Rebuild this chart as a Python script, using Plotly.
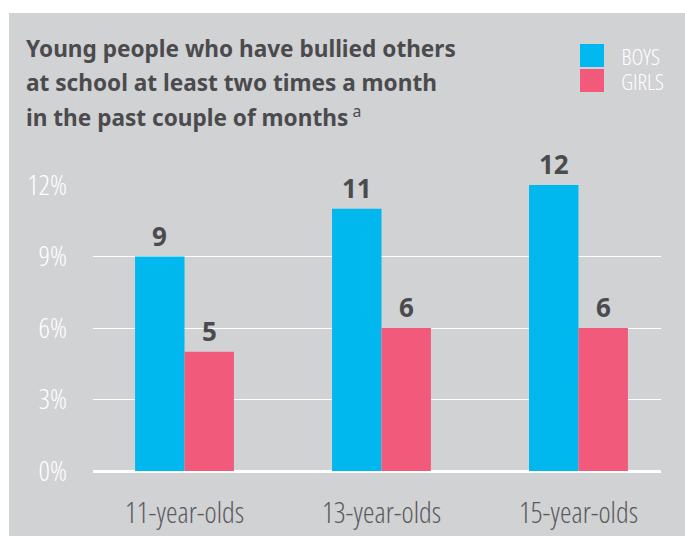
import plotly.graph_objects as go

categories = ["11-year-olds", "13-year-olds", "15-year-olds"]
boys = [9, 11, 12]
girls = [5, 6, 6]
y_ticks = [0, 3, 6, 9, 12]
y_tick_labels = ["0%", "3%", "6%", "9%", "12%"]
title_lines = [
    "Young people who have bullied others",
    "at school at least two times a month",
    "in the past couple of months<span style=\"font-weight:400\"><sup> a</sup></span>",
]

BOYS_C = "#00b7ee"
GIRLS_C = "#f15a7b"
BG = "#d1d2d4"
DARK = "#4b4b4d"
COND = "Open Sans"
BOLD = "Noto Sans"

W, H = 685, 536
L, R, T, B = 93, 24, 185, 65
PW, PH = W - L - R, H - T - B

def px(x):
    return (x - L) / PW

def py(y):
    return (H - B - y) / PH

xs = list(range(len(categories)))
bw = 0.251

fig = go.Figure()
fig.add_trace(go.Bar(x=xs, y=boys, name="BOYS", marker=dict(color=BOYS_C, line=dict(width=0)),
                     width=bw, offset=-bw, hoverinfo="y"))
fig.add_trace(go.Bar(x=xs, y=girls, name="GIRLS", marker=dict(color=GIRLS_C, line=dict(width=0)),
                     width=bw, offset=0, hoverinfo="y"))

lab_font = dict(family=BOLD, size=26, color=DARK, weight=700)
annotations = []
for i, v in enumerate(boys):
    annotations.append(dict(x=i - bw / 2, y=v, xref="x", yref="y", text=str(v), showarrow=False,
                            yanchor="bottom", yshift=1, font=lab_font))
for i, v in enumerate(girls):
    annotations.append(dict(x=i + bw / 2, y=v, xref="x", yref="y", text=str(v), showarrow=False,
                            yanchor="bottom", yshift=1, font=lab_font))

# title lines (baselines at ~58, 92, 125 px)
for k, line in enumerate(title_lines):
    annotations.append(dict(x=px(24), y=py(31 + 33.5 * k), xref="paper", yref="paper",
                            xanchor="left", yanchor="top", align="left", showarrow=False, text=line,
                            font=dict(family=BOLD, size=22.6, color=DARK, weight=700)))

leg_font = dict(family=COND, size=22.5, color="white", weight=300)
annotations.append(dict(x=px(611), y=py(56), xref="paper", yref="paper", xanchor="left", yanchor="middle",
                        showarrow=False, text="BOYS", font=leg_font))
annotations.append(dict(x=px(611), y=py(81.5), xref="paper", yref="paper", xanchor="left", yanchor="middle",
                        showarrow=False, text="GIRLS", font=leg_font))

shapes = [
    dict(type="rect", xref="paper", yref="paper", x0=px(9), x1=px(W + 5), y0=py(H + 5), y1=py(13),
         fillcolor=BG, line=dict(width=0), layer="below"),
    dict(type="rect", xref="paper", yref="paper", x0=px(580), x1=px(604), y0=py(67), y1=py(44),
         fillcolor=BOYS_C, line=dict(width=0)),
    dict(type="rect", xref="paper", yref="paper", x0=px(580), x1=px(604), y0=py(92), y1=py(69),
         fillcolor=GIRLS_C, line=dict(width=0)),
]

fig.update_layout(
    width=W, height=H,
    margin=dict(l=L, r=R, t=T, b=B, pad=0),
    paper_bgcolor="white",
    plot_bgcolor="rgba(0,0,0,0)",
    showlegend=False,
    barmode="overlay",
    annotations=annotations,
    shapes=shapes,
    xaxis=dict(range=[-0.4645, 2.419], tickvals=xs, ticktext=categories, showgrid=False, zeroline=False,
               showline=False, ticks="", ticklabelstandoff=22, automargin=False,
               tickfont=dict(family=COND, size=29, color="#5a5b5d", weight=300),
               fixedrange=True),
    yaxis=dict(range=[0, 12], tickvals=y_ticks, ticktext=y_tick_labels, showgrid=True, gridcolor="white",
               gridwidth=1.2, zeroline=True, zerolinecolor="white", zerolinewidth=2.5, showline=False,
               ticks="", ticklabelstandoff=25, automargin=False,
               tickfont=dict(family=COND, size=28, color="white", weight=300),
               fixedrange=True),
)

post = (
    "document.body.style.margin='0';document.body.style.overflow='hidden';"
    "var s=document.createElement('style');"
    "s.textContent='svg text{font-stretch:75% !important;}';"
    "document.head.appendChild(s);"
)
fig.write_html("out.html", post_script=post, config={"displayModeBar": False})
